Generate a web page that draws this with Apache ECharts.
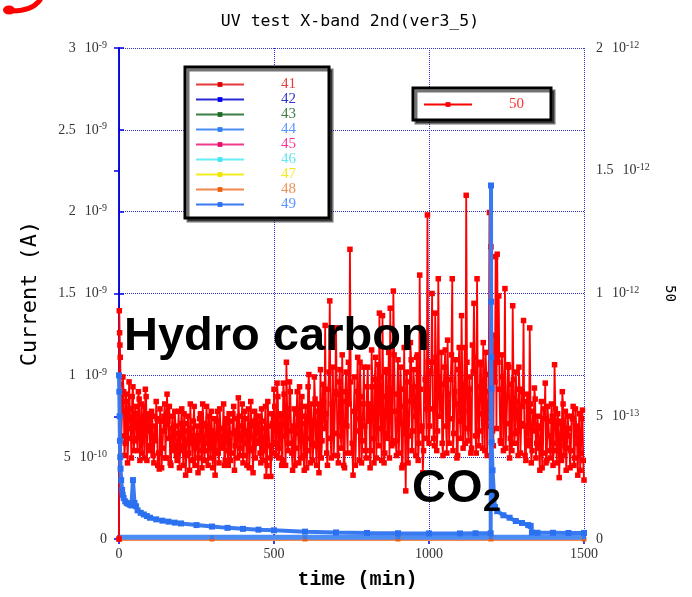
<!DOCTYPE html>
<html><head><meta charset="utf-8">
<script src="https://cdn.jsdelivr.net/npm/echarts@6/dist/echarts.min.js"></script>
<style>html,body{margin:0;padding:0;background:#fff}#c{width:692px;height:597px}</style>
</head><body><div id="c"></div>
<script>
// ---- tick labels ----
const xTickLabels = ['0', '500', '1000', '1500'];
const leftTickLabels = [['0',''],['5','-10'],['1','-9'],['1.5','-9'],['2','-9'],['2.5','-9'],['3','-9']];
const rightTickLabels = [['0',''],['5','-13'],['1','-12'],['1.5','-12'],['2','-12']];

// ---- series names / colours ----
const seriesNames = ['41','42','43','44','45','46','47','48','49','50'];
const lineColors  = ['#e23a3a','#2a2ad8','#3c7f42','#4b8cf5','#f03c8c','#66eef6','#f4ec20','#f08850','#3a7af0','#ff0000'];
const markColors  = ['#dd0000','#0000ee','#1f6a25','#2f7ff5','#e8106e','#44e4f2','#f0e400','#f06010','#2a70f0','#ff0000'];
const textColors  = ['#e04040','#3535d0','#3f7f45','#5a95ff','#ff3595','#66e6f0','#f2ea20','#f09055','#5a95ff','#ff3535'];

// ---- near-zero series 41-48 (units 1e-10 A) ----
const tLow = [0, 300, 600, 900, 1200, 1500];
const s41 = [0.02, 0.02, 0.02, 0.02, 0.02, 0.02];
const s42 = [0.03, 0.03, 0.03, 0.03, 0.03, 0.03];
const s43 = [0.02, 0.02, 0.02, 0.02, 0.02, 0.02];
const s44 = [0.10, 0.10, 0.10, 0.10, 0.10, 0.10];
const s45 = [0.12, 0.04, 0.04, 0.04, 0.12, 0.04];
const s46 = [0.02, 0.02, 0.02, 0.02, 0.02, 0.02];
const s47 = [0.02, 0.02, 0.02, 0.02, 0.02, 0.02];
const s48 = [0.0, 0.0, 0.0, 0.0, 0.0, 0.0];

// ---- series 49 (units 1e-10 A, left axis) ----
const t49 = [0,1,2,3,4,5,7,10,12,15,20,25,30,35,40,45,50,55,60,70,80,90,100,120,140,160,180,200,250,300,350,400,450,500,600,700,800,900,1000,1100,1150,1199,1200,1200.5,1201,1201.5,1202,1205,1210,1213,1220,1240,1260,1280,1300,1320,1328,1332,1350,1400,1450,1500];
const s49 = [10.0,9.0,7.5,6.0,5.0,4.3,3.6,3.0,2.7,2.5,2.3,2.2,2.15,2.1,2.05,3.6,2.2,2.0,1.75,1.6,1.5,1.4,1.3,1.2,1.12,1.06,1.0,0.95,0.85,0.76,0.68,0.62,0.57,0.53,0.45,0.4,0.37,0.35,0.34,0.34,0.35,0.35,21.6,14.5,11.1,9.2,5.9,4.2,2.6,1.95,1.7,1.45,1.3,1.1,0.98,0.85,0.8,0.4,0.38,0.38,0.37,0.37];

// ---- series 50 (units 1e-13 A, right axis) ----
// first minutes
const t50start = [0, 1, 2, 3, 4];
const s50start = [0, 9.3, 8.4, 7.9, 7.4];
// readings at t = 5, 10, ..., 1500
const s50main = [
 6.3,5.2,6.0,3.9,5.6,4.1,5.3,3.3,6.2,4.0, 5.1,3.6,5.7,4.2,3.5,5.4,6.1,3.2,4.9,3.8,
 5.2,3.4,4.6,5.6,3.0,2.85,4.8,3.7,5.0,3.3,
 5.9,4.1,3.1,4.5,3.6,5.2,3.4,4.3,2.9,4.7,
 3.8,5.1,2.6,4.4,3.5,5.5,3.9,4.8,3.0,4.2,
 2.7,4.9,3.6,5.5,3.2,4.6,3.9,5.0,3.3,4.4,
 3.7,2.6,4.8,3.5,5.3,3.9,4.5,3.0,4.7,3.6,
 5.1,3.2,4.3,5.4,3.8,4.9,5.75,3.4,4.6,3.1,
 5.2,3.9,4.4,2.9,5.6,3.7,4.8,3.3,5.0,4.0,
 3.5,5.3,3.2,4.5,2.55,5.6,3.8,2.55,4.7,6.1,
 3.9,6.35,3.3,5.1,3.0,6.35,4.2,7.2,3.6,6.4,
 4.4,2.8,5.3,3.7,6.0,3.1,4.9,5.8,3.4,5.0,
 2.9,6.2,4.1,5.5,3.2,6.6,3.8,5.2,2.7,6.9,
 4.0,5.6,8.7,3.5,6.1,9.7,3.3,7.0,4.3,8.6,
 3.4,6.4,4.2,7.5,3.0,6.0,4.6,7.2,11.8,3.5,
 2.6,6.6,4.4,7.4,3.2,5.8,4.0,7.0,3.6,6.2,
 4.8,2.9,7.7,4.1,6.5,3.3,7.1,9.2,4.5,9.1,
 3.1,6.8,4.3,7.6,9.4,3.8,10.1,5.2,3.4,7.3,
 4.7,6.1,3.0,7.8,1.96,6.4,4.2,8.0,3.6,6.9,
 5.0,7.4,3.2,10.75,4.4,2.7,7.9,5.3,13.2,3.9,
 6.8,10.0,4.1,9.2,3.6,10.6,5.0,7.6,3.4,7.0,
 4.6,8.1,3.9,6.5,10.6,4.3,7.3,3.3,6.9,4.8,
 9.1,3.7,7.8,14.0,4.5,6.6,3.5,7.9,9.6,4.2,
 10.6,3.8,7.2,5.1,8.0,3.6,6.7,4.9,13.3,11.9,
 4.4,8.3,11.5,11.6,9.9,4.0,7.5,3.6,10.2,4.7,
 7.1,3.3,6.3,9.5,3.9,6.8,4.4,7.0,3.5,6.0,
 8.9,3.4,5.6,3.8,8.6,3.1,5.2,6.15,3.3,5.0,
 3.7,4.6,2.9,5.3,6.35,3.2,4.8,3.6,5.5,3.0,
 7.1,3.9,5.1,2.5,4.7,6.0,3.4,5.2,3.7,4.5,
 2.9,5.0,5.4,3.3,4.6,2.6,5.1,3.5,5.25,2.4
];
// readings at t = 7.5, 12.5, ..., 1497.5
const s50mid = [
 4.2,6.6,3.4,5.9,3.1,6.4,4.5,5.8,3.6,5.4,4.1,6.0,3.2,5.5,4.7,3.3,5.8,4.4,5.1,
 3.6,5.0,3.1,4.0,4.9,3.5,5.3,2.9,4.4,5.5,
 3.3,4.8,5.4,3.0,5.0,3.8,4.6,3.2,5.2,3.6,
 5.3,3.0,4.7,3.4,5.0,2.8,4.5,3.2,5.4,3.7,
 4.6,3.3,5.1,2.9,4.7,3.6,5.4,3.0,4.3,5.2,
 2.9,4.9,3.6,5.2,3.1,4.5,3.7,5.5,3.2,4.9,
 3.0,4.8,3.5,5.1,2.8,4.4,3.3,5.0,3.7,5.5,
 3.4,4.9,3.0,5.3,3.6,4.6,2.7,5.2,3.9,4.6,
 5.0,3.1,4.8,3.6,5.4,3.0,4.6,3.3,5.1,3.5,
 5.4,3.4,5.8,3.7,5.0,3.2,5.9,3.0,5.3,3.9,
 6.0,3.5,4.6,3.0,5.1,4.3,6.2,3.3,4.7,2.8,
 5.4,3.6,6.7,3.1,4.8,3.9,5.7,3.0,5.5,4.0,
 3.3,6.3,4.5,5.1,3.0,6.8,4.1,5.5,3.4,6.0,
 5.9,3.1,6.9,3.7,5.6,2.9,6.8,3.5,5.5,6.4,
 3.9,5.2,3.0,6.0,4.9,7.2,3.1,5.5,4.6,3.3,
 7.0,5.5,3.6,6.2,3.1,7.4,5.1,3.8,6.6,3.2,
 5.8,3.5,6.9,4.1,3.3,6.1,3.9,7.5,4.0,5.9,
 3.5,7.0,2.9,5.4,4.3,6.8,3.1,5.6,7.3,4.4,
 6.2,3.4,7.5,3.9,6.1,4.6,3.6,6.5,4.1,7.2,
 4.6,7.2,5.3,3.8,7.4,4.4,6.6,5.8,3.9,6.3,
 7.7,3.5,5.9,4.9,7.5,3.6,6.0,5.5,3.4,7.8,
 4.1,6.3,5.2,3.9,7.2,4.0,6.1,3.7,6.8,7.4,
 3.5,6.2,4.4,7.1,3.7,5.6,7.6,3.4,6.0,4.6,
 6.9,3.8,6.4,4.5,7.2,6.1,3.9,6.6,5.2,3.7,
 5.8,7.0,4.1,3.6,6.5,4.3,5.6,3.4,6.1,4.7,
 5.4,4.6,3.2,5.9,4.0,5.5,3.6,4.4,5.7,3.9,
 4.5,2.8,5.6,3.5,4.9,3.1,5.4,4.2,3.3,5.0,
 3.6,5.3,3.1,4.8,3.8,3.2,5.5,4.1,2.8,5.0,
 4.2,3.6,4.9,3.0,5.3,3.9,4.4,2.8,4.9,3.2
];

const pair = (ts, vs) => ts.map((t, i) => [t, vs[i]]);
const lowData = [s41, s42, s43, s44, s45, s46, s47, s48];

// series 50 in time order: start, then main/mid readings interleaved
const data50 = pair(t50start, s50start);
s50main.forEach((v, i) => {
  data50.push([5 + 5 * i, v]);
  if (i < s50mid.length) data50.push([7.5 + 5 * i, s50mid[i]]);
});

const serif = 'Liberation Serif';
const richTick = {
  m: {fontFamily: serif, fontSize: 14, color: '#333', lineHeight: 16, verticalAlign: 'middle'},
  t: {fontFamily: serif, fontSize: 14, color: '#333', lineHeight: 16, verticalAlign: 'middle', padding: [0, 0, 0, 9]},
  s: {fontFamily: serif, fontSize: 10, color: '#333', lineHeight: 16, verticalAlign: 'top'}
};
function fmtTick(arr, step) {
  return v => {
    const e = arr[Math.round(v / step)];
    if (!e) return '';
    if (!e[1]) return '{m|' + e[0] + '}';
    return '{m|' + e[0] + '}{t|10}{s|' + e[1] + '}';
  };
}

const axisBlue = '#0000dd';
const gridBlue = '#3030d0';

const series = [];
const lowOrder = [2, 1, 5, 6, 0, 4, 7, 3]; // drawing order
lowOrder.forEach(k => {
  series.push({
    name: seriesNames[k], type: 'line', yAxisIndex: 0,
    data: pair(tLow, lowData[k]),
    symbol: 'rect', symbolSize: k === 7 ? 5 : 4,
    lineStyle: {color: lineColors[k], width: k === 3 ? 5 : (k === 7 ? 4 : 2)},
    itemStyle: {color: markColors[k]},
    clip: false, z: 2, animation: false, silent: true
  });
});
series.push({
  name: '50', type: 'line', yAxisIndex: 1,
  data: data50,
  symbol: 'rect', symbolSize: 5.5,
  lineStyle: {color: lineColors[9], width: 1.8},
  itemStyle: {color: markColors[9]},
  z: 3, animation: false, silent: true
});
series.push({
  name: '49', type: 'line', yAxisIndex: 0,
  data: pair(t49, s49),
  symbol: 'rect', symbolSize: 6,
  lineStyle: {color: lineColors[8], width: 4},
  itemStyle: {color: markColors[8]},
  z: 4, animation: false, silent: true
});

const legendCommon = {
  orient: 'vertical', itemWidth: 48, itemHeight: 6, itemGap: 0,
  backgroundColor: '#fff', borderColor: '#000', borderWidth: 3,
  shadowColor: 'rgba(0,0,0,0.55)', shadowOffsetX: 3, shadowOffsetY: 3, shadowBlur: 0,
  selectedMode: false, lineStyle: {width: 2},
  textStyle: {fontFamily: serif, fontSize: 15, lineHeight: 15, padding: [0, 0, 0, 32]}
};

const chart = echarts.init(document.getElementById('c'), null, {renderer: 'canvas'});
chart.setOption({
  animation: false,
  backgroundColor: '#fff',
  title: {
    text: 'UV test X-band 2nd(ver3_5)', left: 345, top: 8, textAlign: 'center',
    textStyle: {fontFamily: 'DejaVu Sans Mono', fontSize: 16.5, fontWeight: 'normal', color: '#000'}
  },
  legend: [
    Object.assign({}, legendCommon, {
      left: 185, top: 67, padding: [10, 33, 6, 10],
      data: seriesNames.slice(0, 9).map((n, i) => ({name: n, textStyle: {color: textColors[i]}}))
    }),
    Object.assign({}, legendCommon, {
      left: 413, top: 88, padding: [9, 27, 8, 10],
      data: [{name: '50', textStyle: {color: textColors[9]}}]
    })
  ],
  grid: {left: 119, right: 108, top: 48, bottom: 58, show: false},
  xAxis: [
    {
      type: 'value', min: 0, max: 1500, interval: 500, position: 'bottom',
      name: 'time (min)', nameLocation: 'middle', nameGap: 31,
      nameTextStyle: {fontFamily: 'Liberation Mono', fontWeight: 'bold', fontSize: 20, color: '#000', padding: [0, 0, 0, 12]},
      axisLine: {show: true, lineStyle: {color: axisBlue, width: 1.5}},
      axisTick: {show: true, inside: true, length: 5, lineStyle: {color: axisBlue, width: 1.5}},
      axisLabel: {margin: 8, fontFamily: serif, fontSize: 14, color: '#333',
        formatter: v => xTickLabels[Math.round(v / 500)]},
      splitLine: {show: true, lineStyle: {color: gridBlue, type: 'dotted', width: 1}}
    },
    {
      type: 'value', min: 0, max: 1500, interval: 500, position: 'top',
      axisLine: {show: true, lineStyle: {color: axisBlue, width: 1.5}},
      axisTick: {show: true, inside: true, length: 5, lineStyle: {color: axisBlue, width: 1.5}},
      axisLabel: {show: false}, splitLine: {show: false}
    }
  ],
  yAxis: [
    {
      type: 'value', min: 0, max: 30, interval: 5, position: 'left',
      name: 'Current (A)', nameLocation: 'middle', nameGap: 78,
      nameTextStyle: {fontFamily: 'DejaVu Sans Mono', fontSize: 22, color: '#000'},
      axisLine: {show: true, lineStyle: {color: axisBlue, width: 1.5}},
      axisTick: {show: true, inside: true, length: 5, lineStyle: {color: axisBlue, width: 1.5}},
      axisLabel: {margin: 12, formatter: fmtTick(leftTickLabels, 5), rich: richTick},
      splitLine: {show: true, lineStyle: {color: gridBlue, type: 'dotted', width: 1}}
    },
    {
      type: 'value', min: 0, max: 20, interval: 5, position: 'right',
      name: '50', nameLocation: 'middle', nameGap: 79, nameRotate: -90,
      nameTextStyle: {fontFamily: 'DejaVu Sans Mono', fontSize: 14, color: '#000'},
      axisLine: {show: true, lineStyle: {color: axisBlue, width: 1.5}},
      axisTick: {show: true, inside: true, length: 5, lineStyle: {color: axisBlue, width: 1.5}},
      axisLabel: {margin: 12, formatter: fmtTick(rightTickLabels, 5), rich: richTick},
      splitLine: {show: false}
    }
  ],
  graphic: [
    {type: 'bezierCurve', silent: true, shape: {x1: 40, y1: 0, cpx1: 32, cpy1: 11, x2: 12, y2: 11},
      style: {stroke: '#ff0000', lineWidth: 5, fill: null, lineCap: 'round'}},
    {type: 'circle', silent: true, x: 9, y: 10, scaleY: 0.75, shape: {cx: 0, cy: 0, r: 6}, style: {fill: '#ff0000'}},
    {type: 'text', silent: true, x: 124, y: 337, z: 10,
      style: {text: 'Hydro carbon', fontFamily: 'Liberation Sans', fontWeight: 'bold', fontSize: 47,
        fill: '#000', align: 'left', verticalAlign: 'middle'}},
    {type: 'text', silent: true, x: 412, y: 489, z: 10,
      style: {text: 'CO', fontFamily: 'Liberation Sans', fontWeight: 'bold', fontSize: 47,
        fill: '#000', align: 'left', verticalAlign: 'middle'}},
    {type: 'text', silent: true, x: 483, y: 502, z: 10,
      style: {text: '2', fontFamily: 'Liberation Sans', fontWeight: 'bold', fontSize: 32,
        fill: '#000', align: 'left', verticalAlign: 'middle'}}
  ],
  series: series
});
</script>
</body></html>
